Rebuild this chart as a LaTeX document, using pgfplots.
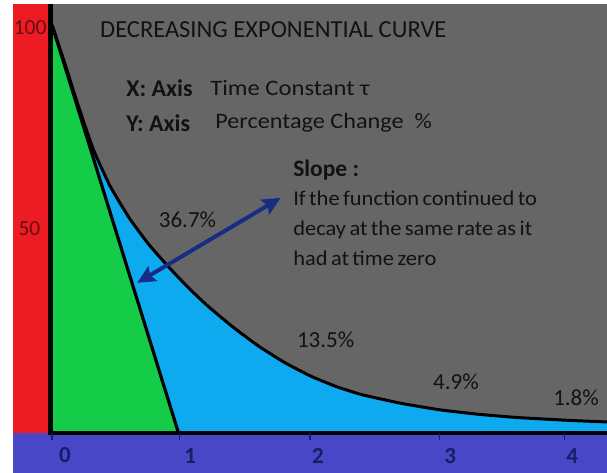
\documentclass[border=0pt]{standalone}
\usepackage{pgfplots}
\pgfplotsset{compat=1.18}
\usetikzlibrary{arrows.meta}
\usepackage{fontspec}
\setmainfont{Carlito}
\definecolor{bggray}{RGB}{102,102,102}
\definecolor{redbar}{RGB}{237,28,36}
\definecolor{greenfill}{RGB}{20,204,72}
\definecolor{bluefill}{RGB}{14,170,240}
\definecolor{bottombar}{RGB}{74,70,200}
\definecolor{arrowblue}{RGB}{24,44,132}
\definecolor{ticknavy}{RGB}{22,30,100}
\definecolor{darkred}{RGB}{105,14,18}
\definecolor{txt}{RGB}{18,18,18}
\pgfplotstableread{
x y
0 100
0.1 90.5
0.2 80.5
0.32 69.5
0.45 60.5
0.6 52.6
0.75 46.2
0.9 40.8
1.05 35.8
1.2 31.3
1.4 26.0
1.6 21.3
1.8 17.3
2.0 14.0
2.2 11.4
2.4 9.4
2.7 7.3
3.0 5.7
3.3 4.6
3.6 3.8
4.0 3.1
4.3 2.7
}\curve
\begin{document}
\begin{tikzpicture}
\begin{axis}[
  width=607pt, height=472pt, scale only axis,
  xmin=-0.403, xmax=4.30, ymin=-9.56, ymax=106.1,
  axis lines=none, clip=true,
]
% backgrounds
\addplot[fill=bggray, draw=none] coordinates {(-0.03,0) (4.31,0) (4.31,105.1) (-0.03,105.1)} -- cycle;
\addplot[fill=redbar, draw=none] coordinates {(-0.302,0) (-0.03,0) (-0.03,105.1) (-0.302,105.1)} -- cycle;
\addplot[fill=bottombar, draw=none] coordinates {(-0.302,-9.7) (4.31,-9.7) (4.31,0) (-0.302,0)} -- cycle;
% blue area under curve
\addplot[fill=bluefill, draw=none] table {\curve} -- (axis cs:4.3,0) -- (axis cs:0,0) -- cycle;
% green triangle
\addplot[fill=greenfill, draw=none] coordinates {(0,100) (0.98,0) (0,0)} -- cycle;
% curve
\addplot[black, line width=3pt, smooth, tension=0.3] table {\curve};
% tangent line
\addplot[black, line width=3.2pt] coordinates {(0,100) (0.98,0)};
% axes lines
\addplot[black, line width=4.5pt] coordinates {(-0.01,105.1) (-0.01,0)};
\addplot[black, line width=3.5pt] coordinates {(-0.03,0) (4.31,0)};
% tick marks
\addplot[ticknavy, line width=1.4pt] coordinates {(0,0) (0,-1.8)};
\addplot[ticknavy, line width=1.4pt] coordinates {(0.99,0) (0.99,-1.8)};
\addplot[ticknavy, line width=1.4pt] coordinates {(2.0,0) (2.0,-1.8)};
\addplot[ticknavy, line width=1.4pt] coordinates {(3.0,0) (3.0,-1.8)};
\addplot[ticknavy, line width=1.4pt] coordinates {(3.97,0) (3.97,-1.8)};
% arrow
\addplot[arrowblue, line width=4pt, {Stealth[length=18pt,width=17pt,inset=3pt]}-{Stealth[length=18pt,width=17pt,inset=3pt]}] coordinates {(0.66,36.8) (1.77,57.6)};
% texts
\node[anchor=west, text=txt, font=\fontsize{24.5}{28}\selectfont, inner sep=0pt] at (axis cs:0.372,98.8) {DECREASING EXPONENTIAL CURVE};
\node[anchor=west, text=txt, font=\bfseries\fontsize{24}{26}\selectfont, inner sep=0pt] at (axis cs:0.574,84.6) {X: Axis};
\node[anchor=west, text=txt, font=\fontsize{22}{26}\selectfont, inner sep=0pt] at (axis cs:1.225,84.6) {\scalebox{1.12}[1]{Time Constant τ}};
\node[anchor=west, text=txt, font=\bfseries\fontsize{24}{26}\selectfont, inner sep=0pt] at (axis cs:0.574,76.0) {Y: Axis};
\node[anchor=west, text=txt, font=\fontsize{22}{26}\selectfont, inner sep=0pt] at (axis cs:1.264,76.0) {\scalebox{1.1}[1]{Percentage Change~ \%}};
\node[anchor=west, text=txt, font=\bfseries\fontsize{23.5}{25}\selectfont, inner sep=0pt] at (axis cs:1.868,64.3) {Slope :};
\node[anchor=north west, text=txt, font=\fontsize{21}{30}\selectfont, inner sep=0pt, align=left] at (axis cs:1.868,59.3) {\scalebox{1.07}[1]{\spaceskip=0.15em If the function continued to}\\\scalebox{1.07}[1]{\spaceskip=0.15em decay at the same rate as it}\\\scalebox{1.07}[1]{\spaceskip=0.15em had at time zero}};
\node[text=txt, font=\fontsize{23}{24}\selectfont] at (axis cs:1.05,52.2) {36.7\%};
\node[text=txt, font=\fontsize{23}{24}\selectfont] at (axis cs:2.12,22.8) {13.5\%};
\node[text=txt, font=\fontsize{23}{24}\selectfont] at (axis cs:3.13,12.5) {4.9\%};
\node[text=txt, font=\fontsize{23}{24}\selectfont] at (axis cs:4.06,8.7) {1.8\%};
\node[text=ticknavy, font=\bfseries\fontsize{23}{24}\selectfont] at (axis cs:0.10,-5.5) {0};
\node[text=ticknavy, font=\bfseries\fontsize{23}{24}\selectfont] at (axis cs:1.07,-5.7) {1};
\node[text=ticknavy, font=\bfseries\fontsize{23}{24}\selectfont] at (axis cs:2.06,-5.7) {2};
\node[text=ticknavy, font=\bfseries\fontsize{23}{24}\selectfont] at (axis cs:3.085,-5.7) {3};
\node[text=ticknavy, font=\bfseries\fontsize{23}{24}\selectfont] at (axis cs:4.03,-5.7) {4};
\node[text=darkred, font=\fontsize{21.5}{24}\selectfont] at (axis cs:-0.17,99.3) {100};
\node[text=darkred, font=\fontsize{21.5}{24}\selectfont] at (axis cs:-0.175,50) {50};
\end{axis}
\pgfresetboundingbox
\useasboundingbox (current axis.south west) rectangle (current axis.north east);
\end{tikzpicture}
\end{document}
